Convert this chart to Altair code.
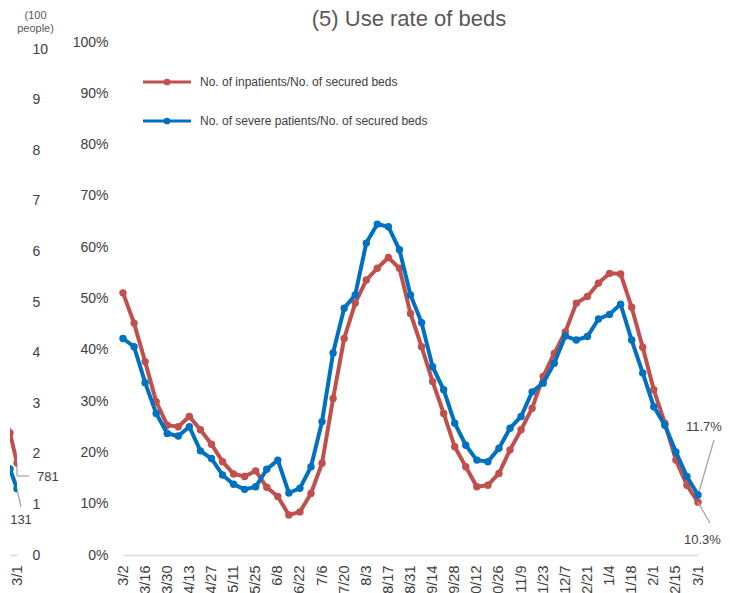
import altair as alt
import pandas as pd

# ---------------- data ----------------
dates = ["3/2", "3/9", "3/16", "3/23", "3/30", "4/6", "4/13", "4/20", "4/27", "5/4",
         "5/11", "5/18", "5/25", "6/1", "6/8", "6/15", "6/22", "6/29", "7/6", "7/13",
         "7/20", "7/27", "8/3", "8/10", "8/17", "8/24", "8/31", "9/7", "9/14", "9/21",
         "9/28", "10/5", "10/12", "10/19", "10/26", "11/2", "11/9", "11/16", "11/23", "11/30",
         "12/7", "12/14", "12/21", "12/28", "1/4", "1/11", "1/18", "1/25", "2/1", "2/8",
         "2/15", "2/22", "3/1"]
tick_dates = ["3/2", "3/16", "3/30", "4/13", "4/27", "5/11", "5/25", "6/8", "6/22", "7/6",
              "7/20", "8/3", "8/17", "8/31", "9/14", "9/28", "10/12", "10/26", "11/9", "11/23",
              "12/7", "12/21", "1/4", "1/18", "2/1", "2/15", "3/1"]

# percent values
inpatients_pct = [51.1, 45.2, 37.7, 29.9, 25.3, 25.0, 27.0, 24.4, 21.6, 18.2,
                  15.8, 15.3, 16.4, 13.2, 11.4, 7.8, 8.4, 12.0, 17.9, 30.5,
                  42.2, 49.1, 53.6, 55.9, 58.0, 55.9, 47.1, 40.6, 33.8, 27.6,
                  21.1, 17.2, 13.3, 13.6, 15.9, 20.5, 24.4, 28.6, 34.8, 39.3,
                  43.5, 49.1, 50.4, 53.0, 54.9, 54.8, 48.3, 40.5, 32.2, 25.7,
                  18.5, 13.6, 10.3]
severe_pct = [42.2, 40.6, 33.6, 27.6, 23.7, 23.2, 25.0, 20.3, 18.8, 15.6,
              13.8, 12.8, 13.3, 16.7, 18.5, 12.1, 13.0, 17.2, 26.0, 39.4,
              48.1, 50.7, 60.8, 64.5, 64.0, 59.5, 50.7, 45.3, 36.7, 32.2,
              25.7, 21.4, 18.5, 18.2, 20.8, 24.7, 27.0, 31.8, 33.5, 37.4,
              42.7, 41.9, 42.6, 46.0, 46.9, 48.9, 41.9, 35.5, 28.9, 25.3,
              20.1, 15.3, 11.7]
pct_ticks = [0, 0.1, 0.2, 0.3, 0.4, 0.5, 0.6, 0.7, 0.8, 0.9, 1.0]

legend_labels = ["No. of inpatients/No. of secured beds",
                 "No. of severe patients/No. of secured beds"]
title_text = "(5) Use rate of beds"

# left (partially visible) panel, in hundreds of people
left_dates = ["2/15", "2/22", "3/1"]
left_idx = [0, 1, 2]
left_inpatients = [2.85, 2.41, 1.82]
left_severe = [1.95, 1.70, 1.31]
left_inpatients_label = "781"
left_severe_label = "131"
count_ticks = [0, 1, 2, 3, 4, 5, 6, 7, 8, 9, 10]

# ---------------- style ----------------
RED = "#C0504D"
BLUE = "#0070C0"
TXT = "#404040"
TITLE = "#595959"
AX = "#D9D9D9"
LEAD = "#A6A6A6"
FONT = "Liberation Sans"
W, H = 575, 513
LW = 7
TOP = -34
SW = 4
PS = 55

df = pd.DataFrame({
    "date": dates,
    "inpatients": [v / 100 for v in inpatients_pct],
    "severe": [v / 100 for v in severe_pct],
})

xaxis = alt.Axis(values=tick_dates, labelAngle=270, ticks=False, grid=False,
                 domainColor=AX, domainWidth=1.5, labelColor=TXT,
                 labelFontSize=14.5, labelPadding=10, labelFont=FONT, title=None)
xscale = alt.Scale(type="point", padding=0)
yaxis = alt.Axis(format=".0%", values=pct_ticks, ticks=False, domain=False, grid=False,
                 labelColor=TXT, labelFontSize=14, labelPadding=15, labelFont=FONT,
                 title=None)
yscale = alt.Scale(domain=[0, 1], nice=False)


def X():
    return alt.X("date:O", sort=dates, scale=xscale, axis=xaxis)


def Y(f):
    return alt.Y(f, scale=yscale, axis=yaxis)


base = alt.Chart(df)

red_line = base.mark_line(color=RED, strokeWidth=SW).encode(x=X(), y=Y("inpatients:Q"))
red_pts = base.mark_circle(color=RED, size=PS, opacity=1).encode(x=X(), y=Y("inpatients:Q"))
blue_line = base.mark_line(color=BLUE, strokeWidth=SW).encode(x=X(), y=Y("severe:Q"))
blue_pts = base.mark_circle(color=BLUE, size=PS, opacity=1).encode(x=X(), y=Y("severe:Q"))

# end-of-series annotations
ann_sev = pd.DataFrame({"date": [dates[-1]], "v": [severe_pct[-1] / 100],
                        "label": [f"{severe_pct[-1]}%"]})
ann_inp = pd.DataFrame({"date": [dates[-1]], "v": [inpatients_pct[-1] / 100],
                        "label": [f"{inpatients_pct[-1]}%"]})
lead_sev = alt.Chart(ann_sev).mark_rule(color=LEAD, strokeWidth=1.3).encode(
    x=X(), y=Y("v:Q"), x2=alt.value(591), y2=alt.value(398))
lead_inp = alt.Chart(ann_inp).mark_rule(color=LEAD, strokeWidth=1.3).encode(
    x=X(), y=Y("v:Q"), x2=alt.value(587), y2=alt.value(481))
txt_sev = alt.Chart(ann_sev).mark_text(align="left", baseline="middle", fontSize=13,
                                       color=TXT, font=FONT).encode(
    x=alt.value(563), y=alt.value(385), text="label:N")
txt_inp = alt.Chart(ann_inp).mark_text(align="left", baseline="middle", fontSize=13,
                                       color=TXT, font=FONT).encode(
    x=alt.value(561), y=alt.value(498), text="label:N")

# legend (drawn inside plot)
leg_layers = []
for lab, col, yy in zip(legend_labels, [RED, BLUE], [40, 79]):
    d = pd.DataFrame({"label": [lab]})
    leg_layers.append(alt.Chart(d).mark_rule(color=col, strokeWidth=3).encode(
        x=alt.value(20), x2=alt.value(68), y=alt.value(yy)))
    leg_layers.append(alt.Chart(d).mark_circle(color=col, size=45, opacity=1).encode(
        x=alt.value(44), y=alt.value(yy)))
    leg_layers.append(alt.Chart(d).mark_text(align="left", baseline="middle", fontSize=12,
                                              color=TXT, font=FONT).encode(
        x=alt.value(77), y=alt.value(yy), text="label:N"))

title_layer = alt.Chart(pd.DataFrame({"t": [title_text]})).mark_text(
    align="center", baseline="top", fontSize=22, color=TITLE, font=FONT).encode(
    x=alt.value(286), y=alt.value(TOP + 1), text="t:N")
top_guard_r = alt.Chart(pd.DataFrame({"g": [0]})).mark_rule(strokeOpacity=0).encode(
    x=alt.value(0), x2=alt.value(W), y=alt.value(TOP))

right = alt.layer(
    red_line, red_pts, lead_sev, lead_inp, blue_line, blue_pts,
    top_guard_r, title_layer, txt_sev, txt_inp, *leg_layers
).properties(width=W, height=H)

# ---------------- left partial panel ----------------
ldf = pd.DataFrame({"i": left_idx, "date": left_dates,
                    "inp": left_inpatients, "sev": left_severe})
lxaxis = alt.Axis(values=[left_idx[-1]], labelExpr=f"'{left_dates[-1]}'",
                  labelAngle=270, ticks=False, grid=False, domainColor=AX,
                  domainWidth=1.5, labelColor=TXT, labelFontSize=14.5,
                  labelPadding=10, labelFont=FONT, title=None)
lxscale = alt.Scale(domain=[1, 2], nice=False, zero=False)
lscale = alt.Scale(domain=[0, 10.14], nice=False)
laxis = alt.Axis(orient="right", values=count_ticks, ticks=False, domain=False, grid=False,
                 labelColor=TXT, labelFontSize=14, labelPadding=15, labelFont=FONT,
                 title=["(100", "people)"], titleAngle=0, titleAlign="center",
                 titleBaseline="top", titleX=18, titleY=TOP + 1, titleFontSize=11,
                 titleFontWeight="normal", titleColor=TITLE, titleFont=FONT,
                 titleLineHeight=13)


def LX():
    return alt.X("i:Q", scale=lxscale, axis=lxaxis)


def LY(f):
    return alt.Y(f, scale=lscale, axis=laxis)


lbase = alt.Chart(ldf)
l_red = lbase.mark_line(color=RED, strokeWidth=SW, clip=True).encode(x=LX(), y=LY("inp:Q"))
l_red_p = lbase.mark_circle(color=RED, size=PS, opacity=1, clip=True).encode(
    x=LX(), y=LY("inp:Q"))
l_blue = lbase.mark_line(color=BLUE, strokeWidth=SW, clip=True).encode(x=LX(), y=LY("sev:Q"))
l_blue_p = lbase.mark_circle(color=BLUE, size=PS, opacity=1, clip=True).encode(
    x=LX(), y=LY("sev:Q"))

lend = ldf.tail(1).assign(l1=left_inpatients_label, l2=left_severe_label)
lend_c = alt.Chart(lend)
l_lead1 = lend_c.mark_rule(color=LEAD, strokeWidth=1.3).encode(
    x=LX(), y=LY("inp:Q"), y2=alt.value(434))
l_lead1b = lend_c.mark_rule(color=LEAD, strokeWidth=1.3).encode(
    x=LX(), x2=alt.value(19), y=alt.value(434))
l_lead2 = lend_c.mark_rule(color=LEAD, strokeWidth=1.3).encode(
    x=LX(), y=LY("sev:Q"), x2=alt.value(11), y2=alt.value(465))
l_t1 = lend_c.mark_text(align="left", baseline="middle", fontSize=13, color=TXT,
                        font=FONT).encode(x=alt.value(27), y=alt.value(435), text="l1:N")
l_t2 = lend_c.mark_text(align="center", baseline="middle", fontSize=13, color=TXT,
                        font=FONT).encode(x=alt.value(11), y=alt.value(478), text="l2:N")
top_guard_l = alt.Chart(pd.DataFrame({"g": [0]})).mark_rule(strokeOpacity=0).encode(
    x=alt.value(0), x2=alt.value(LW), y=alt.value(TOP))

left = alt.layer(
    l_red, l_lead1, l_lead1b, l_lead2, l_red_p, l_blue, l_blue_p,
    top_guard_l, l_t1, l_t2
).properties(width=LW, height=H)

chart = alt.hconcat(left, right, spacing=13).resolve_scale(
    x="independent", y="independent"
).properties(padding=0).configure_view(stroke=None)

chart.save("out.html", embed_options={"renderer": "svg", "actions": False})
